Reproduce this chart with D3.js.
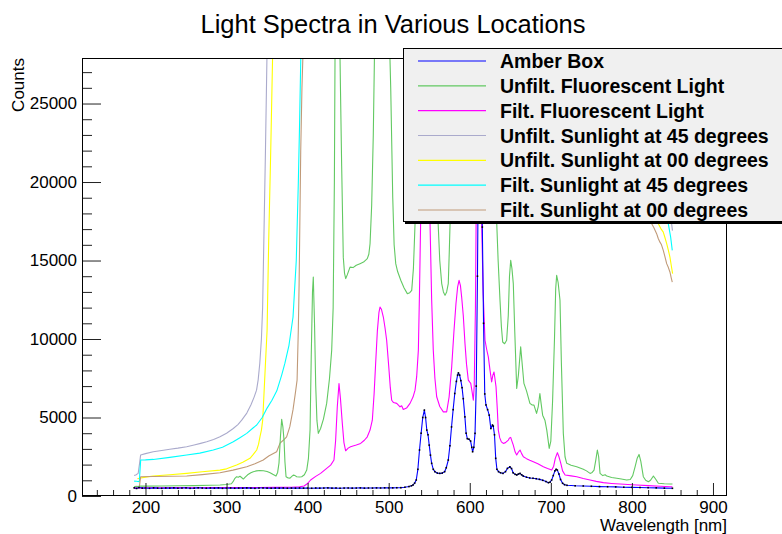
<!DOCTYPE html>
<html>
<head>
<meta charset="utf-8">
<script src="https://cdn.jsdelivr.net/npm/d3@7"></script>
<style>
  body { margin: 0; background: #fff; }
  svg { display: block; }
  text { font-family: "Liberation Sans", Arial, Helvetica, sans-serif; }
</style>
</head>
<body>
<svg id="chart" width="782" height="534"></svg>
<script>
// ---------------- DATA (wavelength nm, counts) ----------------
const titleText = "Light Spectra in Various Locations";
const xLabel = "Wavelength [nm]";
const yLabel = "Counts";
const xDomain = [121.7, 917.3];
const yDomain = [0, 27900];
const xMajorTicks = [200, 300, 400, 500, 600, 700, 800, 900];
const yMajorTicks = [0, 5000, 10000, 15000, 20000, 25000];

const amberBox = [[186,520],[189,480],[192,540],[196,500],[200,510],[205,490],[210,520],[215,500],[220,490],[225,510],[230,500],[235,520],[240,495],[245,505],[250,515],[255,490],[260,500],[265,520],[270,505],[275,495],[280,510],[285,500],[290,515],[295,490],[300,500],[305,510],[310,495],[315,505],[320,500],[325,515],[330,500],[335,490],[340,505],[345,510],[350,500],[355,495],[360,505],[365,500],[370,510],[375,495],[380,505],[385,500],[390,510],[395,500],[400,505],[405,495],[410,510],[415,500],[420,505],[425,515],[430,500],[435,510],[440,495],[445,505],[450,510],[455,500],[460,505],[465,515],[470,500],[475,510],[480,505],[485,515],[490,510],[495,520],[500,515],[505,520],[510,525],[515,530],[520,560],[525,600],[528,650],[530,700],[532,820],[534,1020],[536,1700],[538,2930],[540,4000],[542,5000],[544,5470],[545.5,5000],[547,4200],[548.5,3900],[550,3240],[551.5,2600],[553,2080],[555,1700],[557,1550],[560,1460],[563,1440],[566,1460],[569,1550],[571,1800],[573.5,2290],[575.5,3200],[577.5,4400],[579.5,5500],[581.5,6530],[583.5,7300],[585,7700],[586,7840],[587.5,7700],[589,7350],[590.5,6900],[592,6200],[594,5040],[595.5,4000],[597,3650],[599,3620],[601,3500],[602.5,3100],[603.5,2820],[605,3100],[606.5,3990],[608,7000],[609.5,14000],[611,24000],[612.5,26000],[614,21000],[615.5,17130],[617,11000],[618.5,6500],[620,5800],[622,5500],[624,5150],[626,4300],[628,4520],[629,4450],[630.5,3900],[632,2400],[633.5,1700],[635.5,1550],[638,1480],[641,1440],[644,1550],[646.5,1760],[649.5,1860],[651.5,1750],[653.5,1480],[656,1380],[658,1340],[660,1400],[662,1440],[664,1350],[666,1270],[670,1200],[674,1150],[678,1130],[682,1100],[686,1060],[690,1000],[694,920],[697,850],[699,880],[701,1020],[703,1300],[705,1600],[706.5,1700],[708,1650],[710,1400],[712,1050],[714.5,810],[717,720],[720,680],[730,650],[740,640],[750,620],[760,600],[770,590],[780,580],[790,560],[800,550],[810,540],[820,530],[830,520],[840,500],[850,490]];

const unfiltFluor = [[186,600],[190,610],[194,636],[200,630],[220,640],[240,650],[260,660],[280,680],[292,700],[300,730],[306,780],[308,910],[310,1100],[312.5,1230],[314.5,1200],[316.6,1260],[318.5,1180],[320.7,1080],[323,1200],[326,1350],[330,1480],[333,1550],[337,1600],[341,1620],[345.5,1610],[350,1560],[353.7,1480],[357,1380],[361,1270],[363,1500],[364.7,2100],[366.5,3800],[368,4880],[369.5,4400],[370.9,3560],[372,2200],[373.4,1230],[376,1150],[378.3,1140],[380.5,1250],[382.3,1330],[384.5,1300],[386.5,1230],[390,1210],[392.7,1230],[396,1350],[398.9,1650],[401,2400],[403,4200],[404.5,9000],[406,13000],[407,13950],[408.5,11000],[410,7000],[411.5,4800],[413.2,3990],[416,4300],[419.5,4900],[423.5,5900],[427,7500],[429.7,9290],[431.5,12000],[433,20000],[434,30000],[436,45000],[438,35000],[440.5,26000],[442,21000],[444,15200],[445.5,14200],[447,13850],[449,14100],[452.3,14580],[456,14550],[460,14700],[464.6,14800],[469,14900],[473.6,15120],[475.5,15400],[477,16070],[479,18500],[481,23000],[483,30000],[486,42000],[489,45000],[493,42000],[497,36000],[500,31000],[502.5,26000],[505,19000],[506.7,16000],[508.7,14800],[511,14300],[514.9,13740],[519,13250],[523,12890],[526,12950],[528.4,13100],[530.5,14500],[532.5,17340],[535,22000],[538,30000],[542,45000],[545,55000],[548,45000],[552,32000],[556,24000],[558.5,20000],[561,17340],[563,15000],[565.4,13530],[567.5,13000],[569.5,12780],[571.5,13000],[573.5,13530],[574.7,15500],[575.7,17340],[578,21000],[582,26000],[587,30000],[592,26000],[597,24000],[603,27000],[608,35000],[611,50000],[615,40000],[620,30000],[626,24000],[630,20000],[633.3,17340],[635,15000],[637.3,12470],[639,10800],[640.6,9810],[643,9700],[645.5,9920],[647.5,11500],[649,14000],[650.5,15010],[652,14500],[653.7,13530],[655.5,10500],[657.9,6850],[660,7700],[662.8,9500],[664.5,8500],[666.8,7170],[670,6700],[674.2,5900],[677,5800],[679.2,5790],[682.4,5260],[684.5,5700],[686.5,6530],[688,5900],[689.9,5150],[692.7,4830],[695,4200],[698,3030],[700,3500],[702.2,6100],[704.5,10000],[706,13200],[707.2,14060],[709,13600],[711.3,12470],[713,8500],[715.4,3990],[717.5,2500],[719.6,2080],[725,1960],[731.9,1860],[736,1780],[740.1,1700],[744,1600],[748.4,1440],[751,1500],[753.3,1650],[755.5,2300],[757.4,2930],[759,2500],[760.7,1440],[764,1300],[767,1350],[769,1270],[775,1180],[781.3,1130],[787,1080],[793.6,1020],[798,1050],[801,1300],[803.9,1860],[806.5,2400],[808.8,2650],[811,2200],[814.1,1230],[817,1000],[820.3,910],[823,1000],[826.5,1270],[829,1100],[832.6,810],[840,780],[847.4,760],[850,760]];

const filtFluor = [[186,500],[190,510],[195,520],[200,530],[220,530],[240,535],[260,530],[280,535],[300,540],[320,540],[340,545],[360,550],[380,560],[390,580],[395.6,636],[400,800],[403.7,1020],[410,1250],[416,1440],[422,1700],[428.4,1970],[432.5,2290],[434.5,3500],[436.6,5680],[438.7,7170],[440.5,6200],[442.8,4620],[444.8,3400],[446.9,2880],[450,3050],[453,3140],[460,3250],[465.4,3350],[470,3550],[473.6,3770],[477,4200],[479.8,4830],[482,6500],[483.9,8440],[486,10500],[488,11700],[489.3,12040],[491,11900],[493.4,11400],[495.5,10700],[497.5,9920],[500,8300],[502,6900],[503.7,6100],[506,5950],[509.9,5900],[514,5680],[516,5750],[518,5510],[522,5600],[526.3,5900],[530,6300],[532.5,6740],[534.5,7600],[536.6,9290],[538,13000],[539.5,17760],[541,25000],[543,35000],[545,40000],[547,32000],[549,22000],[551,17340],[553,12500],[555,9290],[557,7500],[559.2,6320],[563,5700],[567.4,5360],[571.5,5360],[574.5,6300],[577.7,8220],[580.5,10500],[583,12260],[585,13300],[586.8,13740],[588.5,13400],[590,12680],[592,11500],[594.1,9710],[596,8400],[598.2,7380],[600,7250],[601.2,7170],[603,6600],[604.4,6100],[605.5,7000],[607,12000],[609,25000],[611,40000],[613,30000],[614.7,17340],[616.5,13000],[618.8,9920],[621,9300],[622.9,8860],[625,8000],[627,7270],[628.5,7700],[629.9,7900],[631,7500],[632.4,6950],[634,5500],[635.2,4200],[637,3700],[639,3450],[641.4,3350],[644,3400],[647.6,3560],[649,3700],[650.5,3730],[652,3500],[653.7,3240],[656,2800],[657.9,2610],[660,2800],[662,2930],[664,2700],[666.1,2500],[670,2380],[674,2280],[678.4,2180],[684,2050],[690.8,1860],[696,1750],[701.1,1650],[703.5,1900],[705.5,2400],[708.1,2760],[710,2500],[712.3,2080],[714.5,1600],[717.6,1340],[725,1280],[732,1230],[740,1120],[748.4,1020],[756,930],[764.8,850],[775,800],[785.4,760],[795,730],[806,700],[820,660],[835,620],[847.4,590],[850,580]];

const unfiltSun45 = [[186,1300],[188,1340],[191,1440],[192.5,2000],[194,2610],[200,2700],[209.6,2820],[220,2900],[230,2980],[240,3050],[250.8,3140],[260,3250],[268,3350],[275.5,3450],[284,3600],[291.9,3770],[300,4000],[308.3,4300],[314,4550],[318.7,4830],[325,5280],[330,5800],[334,6300],[337,6740],[339,7400],[341,8460],[343,10000],[344.5,12000],[346,16280],[348,22000],[350,28500],[353,36000],[360,45000],[400,60000],[500,70000],[600,65000],[700,50000],[780,35000],[820,26000],[840,21000],[846,18500],[849,17340],[850,16900]];

const unfiltSun00 = [[190,1100],[192.4,1130],[200,1200],[209.6,1270],[230,1350],[250.8,1440],[270,1540],[291.9,1650],[300,1730],[312.4,1970],[320,2150],[328.9,2400],[333,2650],[337.2,2930],[339.5,3300],[341.2,3770],[343,4200],[344.6,4830],[346,6300],[348,8460],[350,10560],[352,16280],[354.5,22000],[357,28500],[360,34000],[370,42000],[400,55000],[500,65000],[600,60000],[700,45000],[780,30000],[815,21000],[826,18500],[832.6,17340],[835.5,17050],[838.7,16810],[840.8,16450],[842.9,16070],[845,15650],[846.9,15220],[848.5,14700],[850.2,14160]];

const filtSun45 = [[186,950],[189,940],[192.4,910],[193.2,1600],[194.1,2290],[200,2300],[209.6,2330],[230,2460],[250.8,2610],[267,2730],[283.6,2930],[295,3100],[308.3,3450],[316,3700],[324.9,3990],[333,4350],[337.2,4520],[344,5000],[350,5600],[356,6100],[362,6700],[368,7700],[372,8460],[377,9600],[382,11400],[386,15000],[388.5,19900],[390,23500],[391.5,27700],[393,31000],[400,42000],[500,60000],[600,60000],[700,45000],[800,32000],[830,24000],[840,20000],[844.9,17340],[847.8,16490],[849.8,15650]];

const filtSun00 = [[186,490],[189,500],[192.4,520],[193.2,900],[194.1,1230],[210,1240],[230,1260],[250.8,1270],[270,1360],[291.9,1480],[308,1650],[324.9,1860],[335,2050],[345.3,2290],[352,2550],[361.8,2820],[366,3370],[370,3550],[374.1,3770],[378,4400],[382,5500],[385,6600],[387,7380],[388.5,10560],[389.5,13500],[391.5,22000],[393,26000],[394,27700],[396,32000],[400,38000],[500,60000],[600,60000],[700,45000],[790,28000],[815,20000],[824.4,17340],[827,17100],[830.5,16710],[832.5,16400],[834.6,16170],[836.5,16000],[838.7,15650],[840.5,15300],[842.9,14800],[845,14550],[846.9,14270],[848.5,13900],[849.8,13630]];

const seriesNames = ["Amber Box","Unfilt. Fluorescent Light","Filt. Fluorescent Light","Unfilt. Sunlight at 45 degrees","Unfilt. Sunlight at 00 degrees","Filt. Sunlight at 45 degrees","Filt. Sunlight at 00 degrees"];
const seriesData = [amberBox, unfiltFluor, filtFluor, unfiltSun45, unfiltSun00, filtSun45, filtSun00];
const seriesColors = ["#0000ff","#62c962","#ff00ff","#aaaacc","#ffff00","#00ffff","#c09a78"];

// ---------------- LAYOUT ----------------
const svg = d3.select("#chart");
const L = 82, R = 727, T = 58, B = 496;
const x = d3.scaleLinear().domain(xDomain).range([L, R]);
const y = d3.scaleLinear().domain(yDomain).range([B, T]);

svg.append("defs").append("clipPath").attr("id","clip")
  .append("rect").attr("x", L).attr("y", T).attr("width", R - L).attr("height", B - T);

const line = d3.line().x(d => x(d[0])).y(d => y(d[1]));
const plot = svg.append("g").attr("clip-path","url(#clip)");

// draw order: sunlight first, then fluorescents, amber on top
const order = [3,4,5,6,1,2,0];
order.forEach(i => {
  plot.append("path").datum(seriesData[i])
    .attr("fill","none").attr("stroke", seriesColors[i]).attr("stroke-width", 1.1)
    .attr("stroke-linejoin","round").attr("d", line);
});
plot.append("g").selectAll("rect").data(amberBox).join("rect")
  .attr("x", d => x(d[0]) - 0.8).attr("y", d => y(d[1]) - 0.8)
  .attr("width", 1.6).attr("height", 1.6).attr("fill", "#000");

// ---------------- AXES ----------------
const tickFont = "17px";
const xMinor = d3.range(140, 901, 20).filter(v => !xMajorTicks.includes(v));
const yMinor = d3.range(0, 27901, 1000).filter(v => !yMajorTicks.includes(v));

const gxMinor = svg.append("g").attr("transform", `translate(0,${B})`)
  .call(d3.axisBottom(x).tickValues(xMinor).tickSize(-6).tickSizeOuter(0).tickFormat(""));
const gx = svg.append("g").attr("transform", `translate(0,${B})`)
  .call(d3.axisBottom(x).tickValues(xMajorTicks).tickSize(-13).tickSizeOuter(0).tickPadding(5));
const gyMinor = svg.append("g").attr("transform", `translate(${L},0)`)
  .call(d3.axisLeft(y).tickValues(yMinor).tickSize(-10).tickSizeOuter(0).tickFormat(""));
const gy = svg.append("g").attr("transform", `translate(${L},0)`)
  .call(d3.axisLeft(y).tickValues(yMajorTicks).tickSize(-19).tickSizeOuter(0).tickPadding(5).tickFormat(d3.format("d")));

[gx, gy, gxMinor, gyMinor].forEach(g => {
  g.select(".domain").remove();
  g.selectAll(".tick line").attr("stroke", "#222");
  g.selectAll("text").attr("font-size", tickFont).attr("fill", "#000")
    .attr("font-family", "'Liberation Sans', Arial, Helvetica, sans-serif");
});

// frame
svg.append("rect").attr("x", L + 0.5).attr("y", T + 0.5).attr("width", R - L - 1).attr("height", B - T - 1)
  .attr("fill","none").attr("stroke","#000").attr("stroke-width",1);

// ---------------- TEXT ----------------
svg.append("text").attr("x", 393).attr("y", 33).attr("text-anchor","middle")
  .attr("font-size","25.5px").attr("fill","#000").text(titleText);
svg.append("text").attr("x", R).attr("y", 531).attr("text-anchor","end")
  .attr("font-size","17px").attr("fill","#000").text(xLabel);
svg.append("text").attr("transform", `translate(24,${T}) rotate(-90)`).attr("text-anchor","end")
  .attr("font-size","17px").attr("fill","#000").text(yLabel);

// ---------------- LEGEND ----------------
const lg = svg.append("g");
lg.append("rect").attr("x", 405).attr("y", 50).attr("width", 420).attr("height", 174).attr("fill", "#000");
lg.append("rect").attr("x", 403.5).attr("y", 48.5).attr("width", 420).attr("height", 173)
  .attr("fill", "#f0f0f0").attr("stroke", "#000").attr("stroke-width", 1);
const rowY = d3.scaleLinear().domain([0, seriesNames.length - 1]).range([61, 210]);
seriesNames.forEach((name, i) => {
  lg.append("line").attr("x1", 418).attr("x2", 486).attr("y1", rowY(i)).attr("y2", rowY(i))
    .attr("stroke", seriesColors[i]).attr("stroke-width", 1.2);
  lg.append("text").attr("x", 500).attr("y", rowY(i) + 7).attr("font-size", "19.5px")
    .attr("font-weight", "bold").attr("fill", "#000").text(name);
});
</script>
</body>
</html>
